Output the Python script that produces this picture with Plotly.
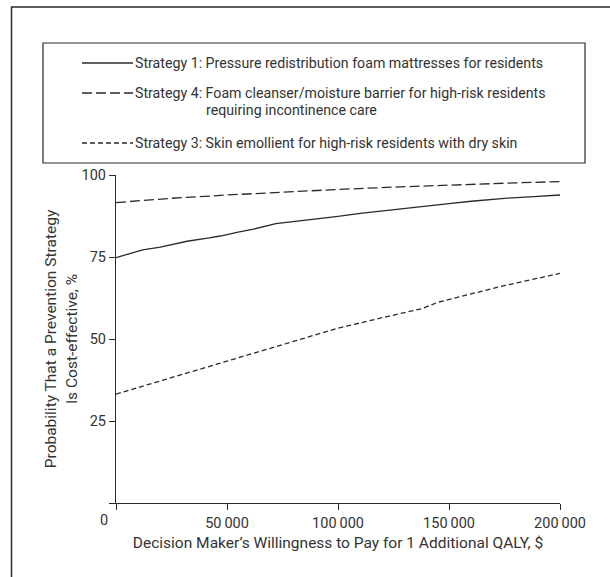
import plotly.graph_objects as go

# ---- data (WTP in $; probability in %) ----
s1_x = [0, 12000, 20000, 32000, 42000, 47000, 55000, 62000, 72000, 84000, 100000,
        110000, 125000, 140000, 150000, 160000, 175000, 190000, 200000]
s1_y = [74.8, 77.2, 78.0, 79.8, 80.8, 81.4, 82.6, 83.5, 85.2, 86.1, 87.4,
        88.3, 89.5, 90.6, 91.3, 92.0, 92.9, 93.5, 93.9]

s4_x = [0, 10000, 25000, 50000, 75000, 100000, 125000, 150000, 175000, 200000]
s4_y = [91.6, 92.2, 92.9, 93.9, 94.8, 95.6, 96.3, 97.0, 97.5, 98.0]

s3_x = [0, 25000, 50000, 75000, 100000, 120000, 138000, 145000, 155000, 165000,
        175000, 190000, 200000]
s3_y = [33.2, 38.2, 43.1, 48.2, 53.3, 56.5, 59.3, 61.2, 63.0, 64.6, 66.3, 68.5, 70.0]

series_names = [
    "Strategy 1: Pressure redistribution foam mattresses for residents",
    "Strategy 4: Foam cleanser/moisture barrier for high-risk residents",
    "Strategy 3: Skin emollient for high-risk residents with dry skin",
]
s4_second_line = "requiring incontinence care"

x_tickvals = [0, 50000, 100000, 150000, 200000]
x_ticktext = ["", "50\u2009000", "100\u2009000", "150\u2009000", "200\u2009000"]
y_tickvals = [0, 25, 50, 75, 100]
y_ticktext = ["", "25", "50", "75", "100"]

FONT = "Roboto, Liberation Sans, sans-serif"
INK = "#2a2a2a"
TXT = "#333333"

W, H = 610, 577
# plot-area position in pixels
SX0, SX1, SY0, SY1 = 116, 560, 175, 503
L, T = SX0, SY0
R, B = W - SX1, H - SY1
PW, PH = SX1 - SX0, SY1 - SY0


def px(x):
    return (x - SX0) / PW


def py(y):
    return 1 - (y - SY0) / PH


fig = go.Figure()
styles = [("solid", s1_x, s1_y), ("10px,4px", s4_x, s4_y), ("5px,3px", s3_x, s3_y)]
for (dash, xs, ys), name in zip(styles, series_names):
    fig.add_trace(go.Scatter(x=xs, y=ys, mode="lines", name=name,
                             line=dict(color=INK, width=1.3, dash=dash),
                             showlegend=False, hoverinfo="skip"))

shapes = []
annotations = []
# outer frame (extends past right and bottom edges)
shapes.append(dict(type="rect", xref="paper", yref="paper",
                   x0=px(11.5), x1=px(640), y0=py(620), y1=py(7),
                   line=dict(color=INK, width=1.5), fillcolor="rgba(0,0,0,0)", layer="below"))
# legend box
shapes.append(dict(type="rect", xref="paper", yref="paper",
                   x0=px(43), x1=px(585), y0=py(163), y1=py(43),
                   line=dict(color=INK, width=1.2), fillcolor="rgba(0,0,0,0)"))
leg_rows = [63, 93, 143]
leg_dash = ["solid", "10px,4px", "5px,3px"]
for yy, d, name in zip(leg_rows, leg_dash, series_names):
    shapes.append(dict(type="line", xref="paper", yref="paper",
                       x0=px(82), x1=px(133), y0=py(yy), y1=py(yy),
                       line=dict(color=INK, width=1.3, dash=d)))
    annotations.append(dict(xref="paper", yref="paper", x=px(133), y=py(yy),
                            text=name, showarrow=False, xanchor="left", yanchor="middle",
                            font=dict(family=FONT, size=14.2, color=TXT)))
annotations.append(dict(xref="paper", yref="paper", x=px(204), y=py(110.5),
                        text=s4_second_line, showarrow=False, xanchor="left", yanchor="middle",
                        font=dict(family=FONT, size=14.2, color=TXT)))
# shared origin label
annotations.append(dict(xref="paper", yref="paper", x=px(104), y=py(520),
                        text="0", showarrow=False, xanchor="center", yanchor="middle",
                        font=dict(family=FONT, size=14.5, color=TXT)))

fig.update_layout(
    width=W, height=H,
    margin=dict(l=L, r=R, t=T, b=B, autoexpand=False),
    paper_bgcolor="white", plot_bgcolor="white",
    font=dict(family=FONT, size=15, color=TXT),
    shapes=shapes, annotations=annotations,
    xaxis=dict(range=[0, 200000], tickvals=x_tickvals, ticktext=x_ticktext,
               showgrid=False, zeroline=False, showline=True, linecolor=INK, linewidth=1.2,
               ticks="outside", ticklen=6, tickcolor=INK, tickwidth=1.2,
               tickfont=dict(family=FONT, size=14.5, color=TXT),
               title=dict(text="Decision Maker\u2019s Willingness to Pay for 1 Additional QALY, $",
                          font=dict(family=FONT, size=15.5, color=TXT), standoff=6)),
    yaxis=dict(range=[0, 100], tickvals=y_tickvals, ticktext=y_ticktext,
               showgrid=False, zeroline=False, showline=True, linecolor=INK, linewidth=1.2,
               ticks="outside", ticklen=6, tickcolor=INK, tickwidth=1.2,
               tickfont=dict(family=FONT, size=14.5, color=TXT),
               title=dict(text="Probability That a Prevention Strategy<br>Is Cost-effective, %",
                          font=dict(family=FONT, size=15.5, color=TXT), standoff=0)),
)

fig.write_html("out.html", config={"displayModeBar": False},
               post_script="document.body.style.margin='0';")
